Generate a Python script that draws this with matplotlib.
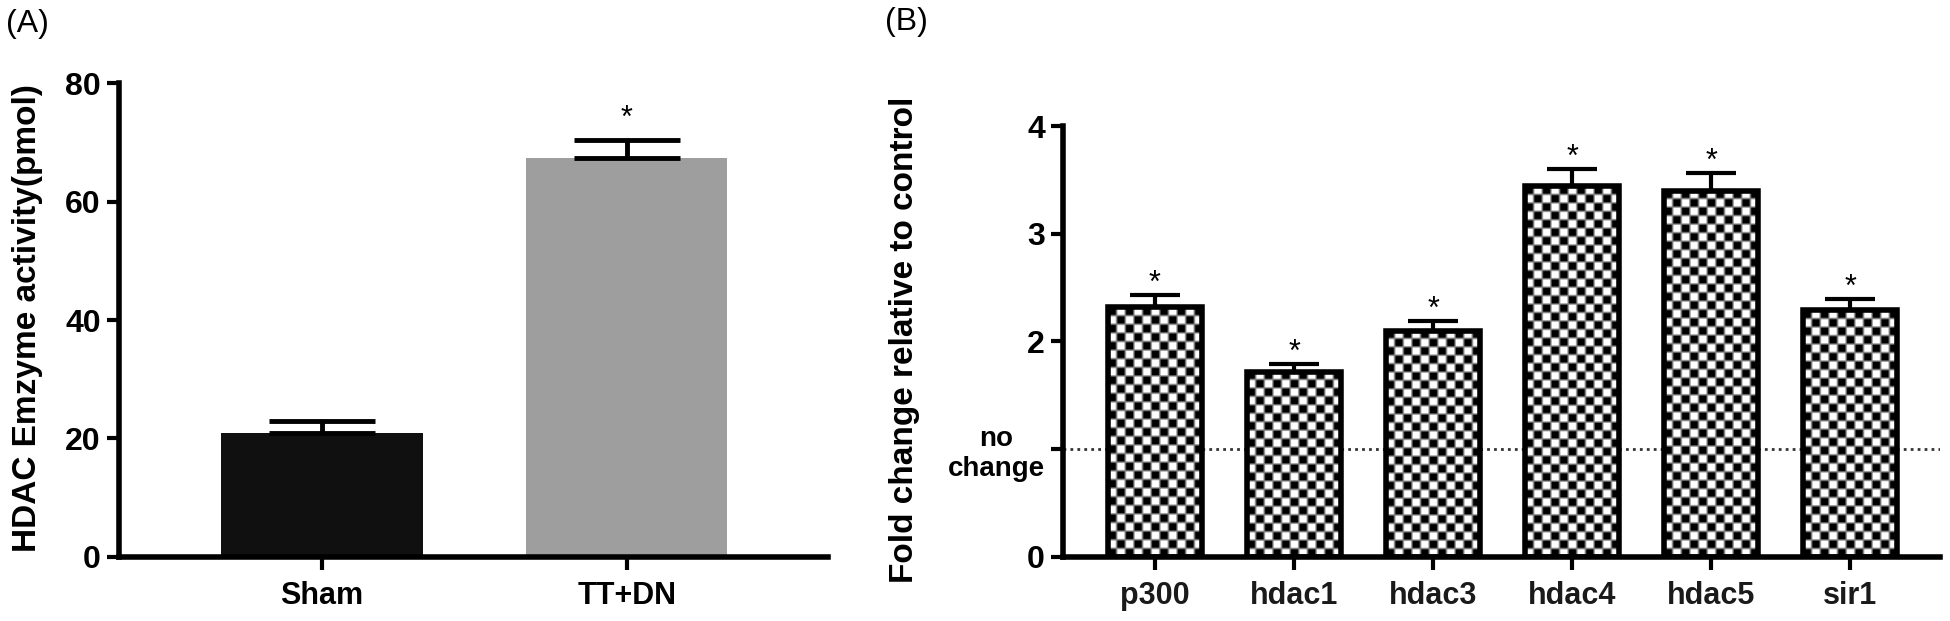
import numpy as np
import matplotlib
matplotlib.use("Agg")
import matplotlib.pyplot as plt

plt.rcParams['font.family'] = ['Liberation Sans', 'DejaVu Sans']

# Panel A - HDAC enzyme activity
groupsA = ['Sham', 'TT+DN']
meanA = [21.0, 67.3]
errA = [2.0, 3.0]
colorsA = ['#101010', '#9e9e9e']
sigA = [False, True]
yticksA = [0, 20, 40, 60, 80]

# Panel B - fold change of acetylation related genes
genesB = ['p300', 'hdac1', 'hdac3', 'hdac4', 'hdac5', 'sir1']
meanB = [2.32, 1.72, 2.10, 3.44, 3.40, 2.29]
errB = [0.11, 0.07, 0.09, 0.16, 0.16, 0.10]
sigB = [True, True, True, True, True, True]
yticksB = [0, 1, 2, 3, 4]
yticklabelsB = ['0', 'no\nchange', '2', '3', '4']

fig = plt.figure(figsize=(19.5, 6.21), dpi=100)
axA = fig.add_axes([0.0610, 0.1031, 0.3636, 0.7632])
axB = fig.add_axes([0.5451, 0.1031, 0.4498, 0.6940])


def style_axis(ax):
    for s in ['top', 'right']:
        ax.spines[s].set_visible(False)
    for s in ['left', 'bottom']:
        ax.spines[s].set_linewidth(4)
    ax.tick_params(axis='both', direction='out', length=9, width=3, color='black')


# ---- panel A
style_axis(axA)
xA = np.arange(len(groupsA))
axA.bar(xA, meanA, width=0.66, color=colorsA, zorder=2)
axA.errorbar(xA, meanA, yerr=[np.zeros(len(errA)), errA], fmt='none', ecolor='black',
             elinewidth=3.5, capsize=38, capthick=3.5, zorder=3)
for x, m, e, s in zip(xA, meanA, errA, sigA):
    if s:
        axA.text(x, m + e + 2.3, '*', ha='center', va='baseline', fontsize=22)
axA.set_xlim(-0.666, 1.66)
axA.set_ylim(0, 80)
axA.set_yticks(yticksA)
axA.set_yticklabels([str(t) for t in yticksA], fontsize=23, fontweight='bold')
axA.set_xticks(xA)
axA.set_xticklabels(groupsA, fontsize=22, fontweight='bold')
axA.tick_params(axis='y', pad=4)
axA.tick_params(axis='x', pad=8)

# ---- panel B
style_axis(axB)
xB = np.arange(len(genesB))
xlimB = (-0.662, 5.647)
ylimB = (0, 4)
axB.set_xlim(*xlimB)
axB.set_ylim(*ylimB)
bars = axB.bar(xB, meanB, width=0.68, facecolor='none', edgecolor='black',
               linewidth=4, zorder=3)

# checkerboard fill, about 8.5 px per cell
cell = 8.5
for b in bars:
    x0, w, h = b.get_x(), b.get_width(), b.get_height()
    p0, p1 = axB.transData.transform([(x0, 0), (x0 + w, h)])
    ncol = max(1, int(round(abs(p1[0] - p0[0]) / cell)))
    nrow = max(1, int(round(abs(p1[1] - p0[1]) / cell)))
    board = np.indices((nrow, ncol)).sum(axis=0) % 2
    board = np.kron(board, np.ones((3, 3)))
    im = axB.imshow(board, cmap='gray', vmin=0, vmax=1, interpolation='bilinear',
                    extent=(x0, x0 + w, 0, h), aspect='auto', zorder=2)
    im.set_clip_path(b)

axB.errorbar(xB, meanB, yerr=[np.zeros(len(errB)), errB], fmt='none', ecolor='black',
             elinewidth=3, capsize=18, capthick=3, zorder=4)
for x, m, e, s in zip(xB, meanB, errB, sigB):
    if s:
        axB.text(x, m + e + 0.03, '*', ha='center', va='baseline', fontsize=22)

axB.axhline(1, color='#333333', linestyle=(0, (1, 1.5)), linewidth=2, zorder=1)
axB.set_xlim(*xlimB)
axB.set_ylim(*ylimB)
axB.set_yticks(yticksB)
axB.set_yticklabels(yticklabelsB, fontsize=23, fontweight='bold')
lbl = axB.get_yticklabels()[1]
lbl.set_fontsize(20)
lbl.set_multialignment('center')
axB.set_xticks(xB)
axB.set_xticklabels(genesB, fontsize=22, fontweight='bold', color='#1a1a1a')
axB.tick_params(axis='y', pad=4)
axB.tick_params(axis='x', pad=8)

# axis titles and panel letters
fig.text(28 / 1950, 1 - 318 / 621, 'HDAC Emzyme activity(pmol)', rotation=90,
         ha='center', va='center', fontsize=24, fontweight='bold')
fig.text(905 / 1950, 1 - 340 / 621, 'Fold change relative to control', rotation=90,
         ha='center', va='center', fontsize=24, fontweight='bold')
fig.text(6 / 1950, 1 - 24 / 621, '(A)', ha='left', va='center', fontsize=23)
fig.text(885 / 1950, 1 - 22 / 621, '(B)', ha='left', va='center', fontsize=23)

fig.savefig('out.png', dpi=100)
